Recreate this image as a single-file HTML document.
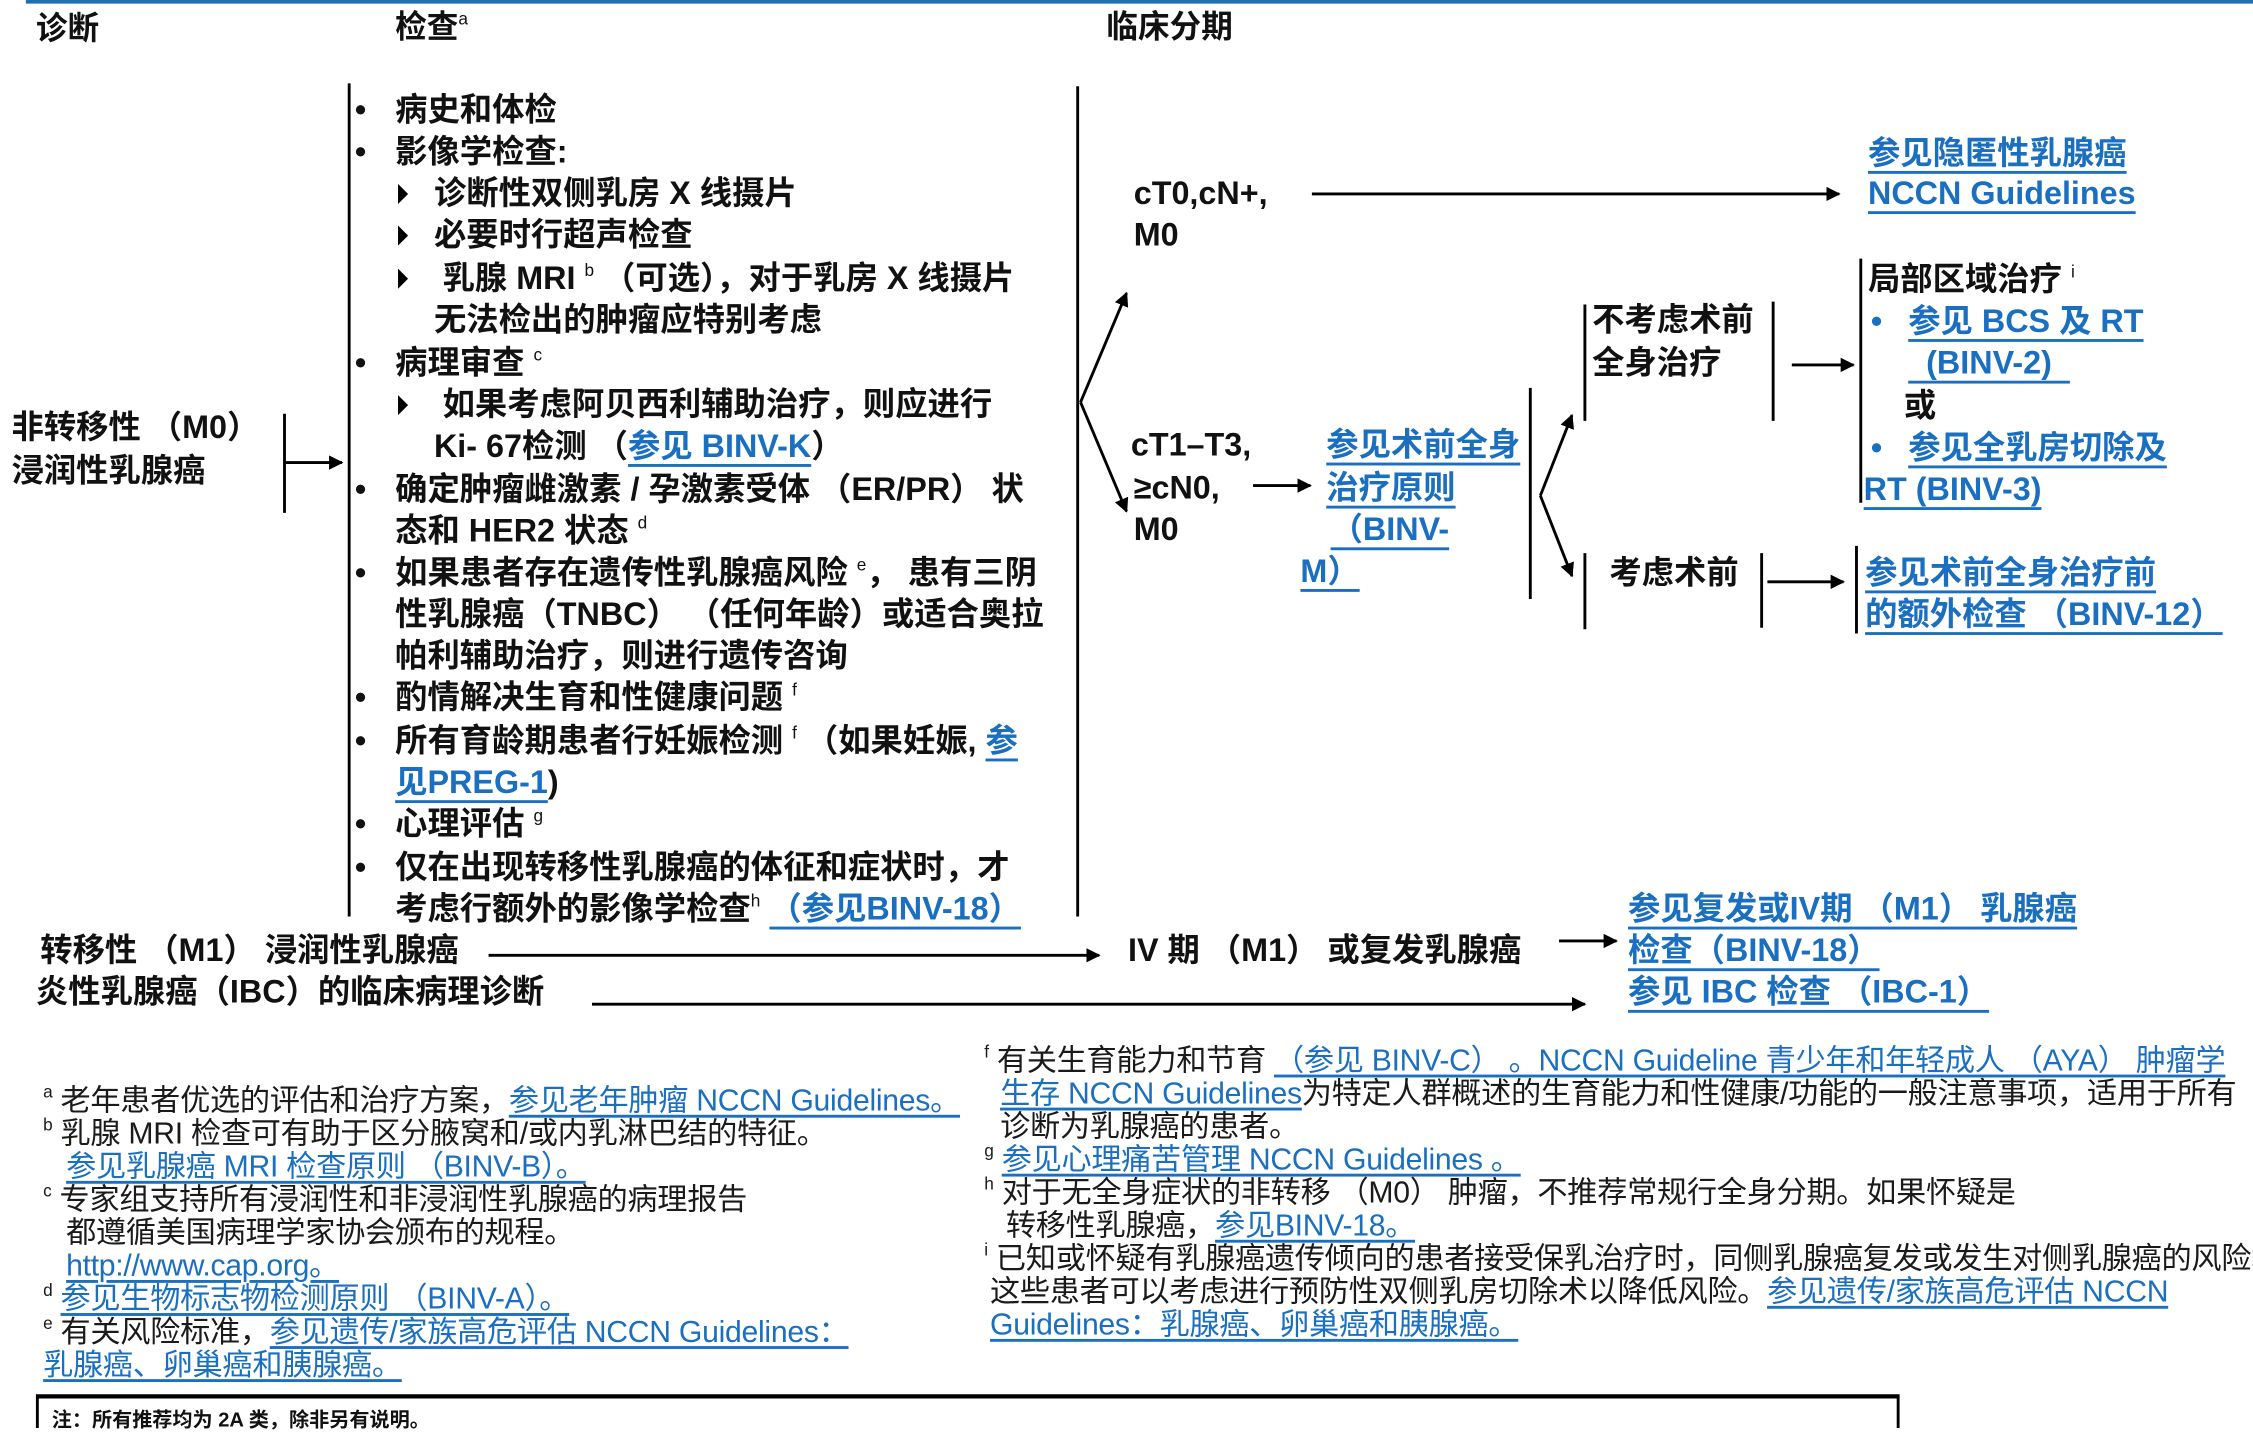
<!DOCTYPE html>
<html><head><meta charset="utf-8"><style>
html,body{margin:0;padding:0;background:#fff;width:2253px;height:1428px;overflow:hidden}
#w{position:absolute;left:0;top:0;width:1568px;height:994px;transform:scale(1.4369,1.4366);transform-origin:0 0;font-family:"Liberation Sans","Noto Sans CJK SC",sans-serif;color:#111}
.t{position:absolute;white-space:nowrap;font-weight:bold;font-size:22.5px;line-height:30px}
.h{font-size:22px}
.l{color:#1a6fc0;text-decoration:underline;text-decoration-thickness:2px;text-underline-offset:5px}
.f{position:absolute;white-space:nowrap;font-size:21px;line-height:23px;color:#1a1a1a;letter-spacing:-0.2px}
.f .l{text-decoration-thickness:1.5px;text-underline-offset:3px}
sup{font-size:12px;line-height:0;vertical-align:baseline;position:relative;top:-9px;font-weight:normal}
svg{position:absolute;left:0;top:0}
</style></head><body><div id="w">
<svg width="1568" height="994" viewBox="0 0 1568 994">
<defs><marker id="a" markerWidth="10" markerHeight="10" refX="9" refY="5" orient="auto" markerUnits="userSpaceOnUse"><path d="M0,0 L10,5 L0,10 z" fill="#000"/></marker></defs>
<g stroke="#000" stroke-width="2" fill="none">
<line x1="18" y1="1" x2="1568" y2="1" stroke="#1f6fb5" stroke-width="3"/>
<line x1="198" y1="288" x2="198" y2="357"/>
<line x1="198" y1="322" x2="238" y2="322" marker-end="url(#a)"/>
<line x1="243" y1="58" x2="243" y2="638"/>
<line x1="750" y1="60" x2="750" y2="638"/>
<line x1="752" y1="280" x2="784" y2="204" marker-end="url(#a)"/>
<line x1="752" y1="280" x2="784" y2="356" marker-end="url(#a)"/>
<line x1="913" y1="135" x2="1280" y2="135" marker-end="url(#a)"/>
<line x1="872" y1="338" x2="912" y2="338" marker-end="url(#a)"/>
<line x1="1065" y1="270" x2="1065" y2="417"/>
<line x1="1072" y1="345" x2="1094" y2="289" marker-end="url(#a)"/>
<line x1="1072" y1="345" x2="1094" y2="401" marker-end="url(#a)"/>
<line x1="1103" y1="212" x2="1103" y2="293"/>
<line x1="1234" y1="210" x2="1234" y2="293"/>
<line x1="1247" y1="254" x2="1290" y2="254" marker-end="url(#a)"/>
<line x1="1295" y1="180" x2="1295" y2="350"/>
<line x1="1103" y1="385" x2="1103" y2="438"/>
<line x1="1226" y1="385" x2="1226" y2="437"/>
<line x1="1230" y1="405" x2="1283" y2="405" marker-end="url(#a)"/>
<line x1="1292" y1="380" x2="1292" y2="441"/>
<line x1="340" y1="665" x2="765" y2="665" marker-end="url(#a)"/>
<line x1="1085" y1="655" x2="1125" y2="655" marker-end="url(#a)"/>
<line x1="412" y1="699" x2="1103" y2="699" marker-end="url(#a)"/>
<line x1="25" y1="972" x2="1322" y2="972" stroke-width="3"/>
<line x1="26" y1="972" x2="26" y2="994"/>
<line x1="1321" y1="972" x2="1321" y2="994"/>
</g>
<g fill="#000">
<path d="M277,128 L284,135 L277,142 z"/><path d="M277,157 L284,164 L277,171 z"/><path d="M277,187 L284,194 L277,201 z"/><path d="M277,275 L284,282 L277,289 z"/>
</g>
</svg>
<div class="t h" style="left:25px;top:5px">诊断</div>
<div class="t h" style="left:275px;top:4px">检查<sup>a</sup></div>
<div class="t h" style="left:770px;top:4px">临床分期</div>

<div class="t" style="left:8px;top:283px">非转移性 （M0）</div>
<div class="t" style="left:8px;top:313px">浸润性乳腺癌</div>

<div class="t" style="left:247px;top:62px">•</div><div class="t" style="left:275px;top:62px">病史和体检</div>
<div class="t" style="left:247px;top:91px">•</div><div class="t" style="left:275px;top:91px">影像学检查:</div>
<div class="t" style="left:302px;top:120px">诊断性双侧乳房 X 线摄片</div>
<div class="t" style="left:302px;top:149px">必要时行超声检查</div>
<div class="t" style="left:308px;top:179px">乳腺 MRI <sup>b</sup> （可选），对于乳房 X 线摄片</div>
<div class="t" style="left:302px;top:208px">无法检出的肿瘤应特别考虑</div>
<div class="t" style="left:247px;top:238px">•</div><div class="t" style="left:275px;top:238px">病理审查 <sup>c</sup></div>
<div class="t" style="left:308px;top:267px">如果考虑阿贝西利辅助治疗，则应进行</div>
<div class="t" style="left:302px;top:296px">Ki- 67检测 （<span class="l">参见 BINV-K</span>）</div>
<div class="t" style="left:247px;top:326px">•</div><div class="t" style="left:275px;top:326px">确定肿瘤雌激素 / 孕激素受体 （ER/PR） 状</div>
<div class="t" style="left:275px;top:355px">态和 HER2 状态 <sup>d</sup></div>
<div class="t" style="left:247px;top:384px">•</div><div class="t" style="left:275px;top:384px">如果患者存在遗传性乳腺癌风险 <sup>e</sup>， 患有三阴</div>
<div class="t" style="left:275px;top:413px">性乳腺癌（TNBC） （任何年龄）或适合奥拉</div>
<div class="t" style="left:275px;top:442px">帕利辅助治疗，则进行遗传咨询</div>
<div class="t" style="left:247px;top:471px">•</div><div class="t" style="left:275px;top:471px">酌情解决生育和性健康问题 <sup>f</sup></div>
<div class="t" style="left:247px;top:501px">•</div><div class="t" style="left:275px;top:501px">所有育龄期患者行妊娠检测 <sup>f</sup> （如果妊娠, <span class="l">参</span></div>
<div class="t" style="left:275px;top:530px"><span class="l">见PREG-1</span>)</div>
<div class="t" style="left:247px;top:559px">•</div><div class="t" style="left:275px;top:559px">心理评估 <sup>g</sup></div>
<div class="t" style="left:247px;top:589px">•</div><div class="t" style="left:275px;top:589px">仅在出现转移性乳腺癌的体征和症状时，才</div>
<div class="t" style="left:275px;top:618px">考虑行额外的影像学检查<sup>h</sup> <span class="l">（参见BINV-18）</span></div>

<div class="t" style="left:789px;top:120px">cT0,cN+,</div>
<div class="t" style="left:789px;top:149px">M0</div>
<div class="t l" style="left:1300px;top:92px">参见隐匿性乳腺癌</div>
<div class="t l" style="left:1300px;top:120px">NCCN Guidelines</div>
<div class="t" style="left:787px;top:295px">cT1–T3,</div>
<div class="t" style="left:789px;top:325px">≥cN0,</div>
<div class="t" style="left:789px;top:354px">M0</div>
<div class="t l" style="left:923px;top:295px">参见术前全身</div>
<div class="t l" style="left:923px;top:325px">治疗原则</div>
<div class="t l" style="left:926px;top:354px">（BINV-</div>
<div class="t l" style="left:905px;top:383px">M）</div>
<div class="t" style="left:1108px;top:208px">不考虑术前</div>
<div class="t" style="left:1108px;top:238px">全身治疗</div>
<div class="t" style="left:1300px;top:180px">局部区域治疗 <sup>i</sup></div>
<div class="t" style="left:1302px;top:209px;color:#1a6fc0">•</div><div class="t l" style="left:1328px;top:209px">参见 BCS 及 RT</div>
<div class="t l" style="left:1328px;top:238px">&nbsp;&nbsp;(BINV-2)&nbsp;&nbsp;</div>
<div class="t" style="left:1325px;top:268px">或</div>
<div class="t" style="left:1302px;top:297px;color:#1a6fc0">•</div><div class="t l" style="left:1328px;top:297px">参见全乳房切除及</div>
<div class="t l" style="left:1297px;top:326px">RT (BINV-3)</div>
<div class="t" style="left:1120px;top:384px">考虑术前</div>
<div class="t l" style="left:1298px;top:384px">参见术前全身治疗前</div>
<div class="t l" style="left:1298px;top:413px">的额外检查 （BINV-12）</div>

<div class="t" style="left:28px;top:647px">转移性 （M1） 浸润性乳腺癌</div>
<div class="t" style="left:785px;top:647px">IV 期 （M1） 或复发乳腺癌</div>
<div class="t l" style="left:1133px;top:618px">参见复发或IV期 （M1） 乳腺癌</div>
<div class="t l" style="left:1133px;top:647px">检查（BINV-18）</div>
<div class="t l" style="left:1133px;top:676px">参见 IBC 检查 （IBC-1）</div>
<div class="t" style="left:25px;top:676px">炎性乳腺癌（IBC）的临床病理诊断</div>

<div class="f" style="left:30px;top:755px"><sup>a</sup> 老年患者优选的评估和治疗方案，<span class="l">参见老年肿瘤 NCCN Guidelines。</span></div>
<div class="f" style="left:30px;top:778px"><sup>b</sup> 乳腺 MRI 检查可有助于区分腋窝和/或内乳淋巴结的特征。</div>
<div class="f" style="left:46px;top:801px"><span class="l">参见乳腺癌 MRI 检查原则 （BINV-B）。</span></div>
<div class="f" style="left:30px;top:824px"><sup>c</sup> 专家组支持所有浸润性和非浸润性乳腺癌的病理报告</div>
<div class="f" style="left:46px;top:847px">都遵循美国病理学家协会颁布的规程。</div>
<div class="f" style="left:46px;top:870px"><span class="l">http://www.cap.org。</span></div>
<div class="f" style="left:30px;top:893px"><sup>d</sup> <span class="l">参见生物标志物检测原则 （BINV-A）。</span></div>
<div class="f" style="left:30px;top:916px"><sup>e</sup> 有关风险标准，<span class="l">参见遗传/家族高危评估 NCCN Guidelines：</span></div>
<div class="f" style="left:30px;top:939px"><span class="l">乳腺癌、卵巢癌和胰腺癌。</span></div>

<div class="f" style="left:685px;top:727px"><sup>f</sup> 有关生育能力和节育 <span class="l">（参见 BINV-C） 。NCCN Guideline 青少年和年轻成人 （AYA） 肿瘤学</span></div>
<div class="f" style="left:696px;top:750px"><span class="l">生存 NCCN Guidelines</span>为特定人群概述的生育能力和性健康/功能的一般注意事项，适用于所有</div>
<div class="f" style="left:696px;top:773px">诊断为乳腺癌的患者。</div>
<div class="f" style="left:685px;top:796px"><sup>g</sup> <span class="l">参见心理痛苦管理 NCCN Guidelines 。</span></div>
<div class="f" style="left:685px;top:819px"><sup>h</sup> 对于无全身症状的非转移 （M0） 肿瘤，不推荐常规行全身分期。如果怀疑是</div>
<div class="f" style="left:700px;top:842px">转移性乳腺癌，<span class="l">参见BINV-18。</span></div>
<div class="f" style="left:685px;top:865px"><sup>i</sup> 已知或怀疑有乳腺癌遗传倾向的患者接受保乳治疗时，同侧乳腺癌复发或发生对侧乳腺癌的风险增</div>
<div class="f" style="left:689px;top:888px">这些患者可以考虑进行预防性双侧乳房切除术以降低风险。<span class="l">参见遗传/家族高危评估 NCCN</span></div>
<div class="f" style="left:689px;top:911px"><span class="l">Guidelines：乳腺癌、卵巢癌和胰腺癌。</span></div>

<div class="t" style="left:36px;top:978px;font-size:14px;line-height:20px">注：所有推荐均为 2A 类，除非另有说明。</div>
</div></body></html>
